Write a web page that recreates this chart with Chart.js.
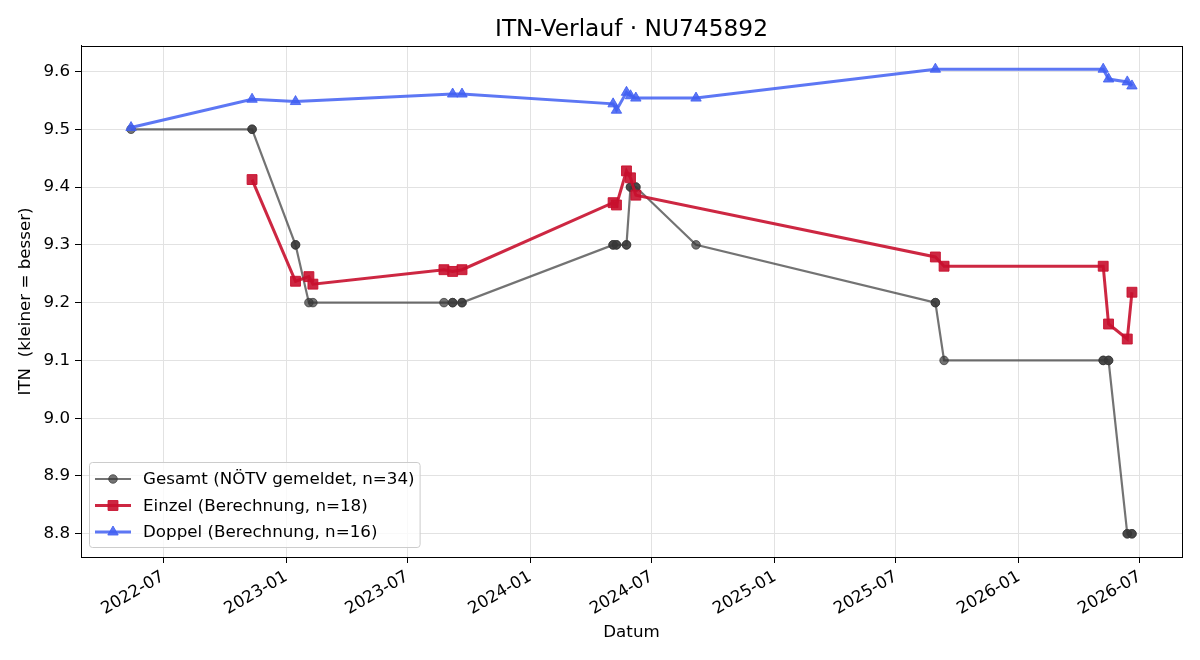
<!DOCTYPE html>
<html>
<head>
<meta charset="utf-8">
<script src="https://cdn.jsdelivr.net/npm/chart.js@4.4.1/dist/chart.umd.min.js"></script>
<style>
  html, body { margin: 0; padding: 0; background: #fff; }
  #wrap { width: 1200px; height: 660px; }
</style>
</head>
<body>
<div id="wrap"><canvas id="itnChart" width="1200" height="660"></canvas></div>
<script>
// --- DATA ---
const tickLabels = ['2022-07', '2023-01', '2023-07', '2024-01', '2024-07', '2025-01', '2025-07', '2026-01', '2026-07'];

const gesamtDates = [
    '2022-05-14', '2022-11-11', '2022-11-11', '2023-01-15', '2023-01-15', '2023-02-04', '2023-02-10',
    '2023-08-25', '2023-09-07', '2023-09-07', '2023-09-21', '2023-09-21', '2024-05-04', '2024-05-04',
    '2024-05-09', '2024-05-09', '2024-05-24', '2024-05-24', '2024-05-30', '2024-05-30', '2024-06-07',
    '2024-06-07', '2024-09-05', '2025-08-29', '2025-08-29', '2025-09-11', '2026-05-07', '2026-05-07',
    '2026-05-15', '2026-05-15', '2026-06-12', '2026-06-12', '2026-06-19', '2026-06-19'
];
const gesamtValues = [
    9.5, 9.5, 9.5, 9.3, 9.3, 9.2, 9.2,
    9.2, 9.2, 9.2, 9.2, 9.2, 9.3, 9.3,
    9.3, 9.3, 9.3, 9.3, 9.4, 9.4, 9.4,
    9.4, 9.3, 9.2, 9.2, 9.1, 9.1, 9.1,
    9.1, 9.1, 8.8, 8.8, 8.8, 8.8
];

const einzelDates = [
    '2022-11-11', '2023-01-15', '2023-02-04', '2023-02-10', '2023-08-25', '2023-09-07', '2023-09-21',
    '2024-05-04', '2024-05-09', '2024-05-24', '2024-05-30', '2024-06-07', '2025-08-29', '2025-09-11',
    '2026-05-07', '2026-05-15', '2026-06-12', '2026-06-19'
];
const einzelValues = [
    9.413, 9.237, 9.245, 9.232, 9.257, 9.254, 9.257,
    9.373, 9.369, 9.428, 9.416, 9.386, 9.279, 9.263,
    9.263, 9.163, 9.137, 9.218
];

const doppelDates = [
    '2022-05-14', '2022-11-11', '2023-01-15', '2023-09-07', '2023-09-21', '2024-05-04', '2024-05-09',
    '2024-05-24', '2024-05-30', '2024-06-07', '2024-09-05', '2025-08-29', '2026-05-07', '2026-05-15',
    '2026-06-12', '2026-06-19'
];
const doppelValues = [
    9.503, 9.552, 9.548, 9.561, 9.561, 9.544, 9.533,
    9.564, 9.558, 9.554, 9.554, 9.604, 9.604, 9.587,
    9.582, 9.575
];

// date string -> days since epoch
const toDay = (s) => {
    const [y, m, d] = s.split('-').map(Number);
    return Date.UTC(y, m - 1, d || 1) / 86400000;
};
const toPoints = (dates, values) => dates.map((d, i) => ({ x: toDay(d), y: values[i] }));

const tickDays = tickLabels.map(toDay);

// matplotlib-like 5% margins
const allDays = gesamtDates.map(toDay);
const allVals = gesamtValues.concat(einzelValues, doppelValues);
const dMin = Math.min(...allDays), dMax = Math.max(...allDays);
const vMin = Math.min(...allVals), vMax = Math.max(...allVals);
const xPad = (dMax - dMin) * 0.05, yPad = (vMax - vMin) * 0.05;

const FONT = "'DejaVu Sans', sans-serif";
const FS = 16.7;
Chart.defaults.font.family = FONT;
Chart.defaults.color = '#000';

// frame + legend inside the plot (lower left)
const frameAndLegend = {
    id: 'frameAndLegend',
    afterDraw(chart) {
        const { ctx, chartArea } = chart;
        ctx.save();
        ctx.strokeStyle = '#000';
        ctx.lineWidth = 1;
        ctx.strokeRect(Math.round(chartArea.left) + 0.5, Math.round(chartArea.top) + 0.5,
            Math.round(chartArea.right - chartArea.left), Math.round(chartArea.bottom - chartArea.top));

        ctx.font = FS + 'px ' + FONT;
        const sets = chart.data.datasets;
        const textW = Math.max(...sets.map(d => ctx.measureText(d.label).width));
        const x0 = chartArea.left + 8;
        const h = 85;
        const y0 = chartArea.bottom - 10 - h;
        const w = 54 + textW + 5;

        ctx.beginPath();
        if (ctx.roundRect) ctx.roundRect(x0 + 0.5, y0 + 0.5, w, h, 3);
        else ctx.rect(x0 + 0.5, y0 + 0.5, w, h);
        ctx.fillStyle = 'rgba(255,255,255,0.8)';
        ctx.fill();
        ctx.strokeStyle = '#cccccc';
        ctx.stroke();

        sets.forEach((ds, i) => {
            const cy = y0 + 17 + i * 26.5;
            ctx.strokeStyle = ds.borderColor;
            ctx.lineWidth = ds.borderWidth;
            ctx.beginPath();
            ctx.moveTo(x0 + 6, cy);
            ctx.lineTo(x0 + 42, cy);
            ctx.stroke();

            ctx.fillStyle = ds.pointBackgroundColor;
            ctx.strokeStyle = ds.pointBorderColor;
            ctx.lineWidth = ds.pointBorderWidth;
            Chart.helpers.drawPoint(ctx, {
                pointStyle: ds.pointStyle, radius: ds.pointRadius,
                borderWidth: ds.pointBorderWidth, rotation: 0
            }, x0 + 24, cy);

            ctx.fillStyle = '#000';
            ctx.textAlign = 'left';
            ctx.textBaseline = 'middle';
            ctx.fillText(ds.label, x0 + 54, cy + 1);
        });
        ctx.restore();
    }
};

const grey = 'rgba(55,55,55,0.7)';
const red = 'rgba(200,16,46,0.9)';
const blue = 'rgba(65,95,242,0.85)';

new Chart(document.getElementById('itnChart'), {
    type: 'line',
    data: {
        datasets: [{
            label: 'Gesamt (NÖTV gemeldet, n=34)',
            data: toPoints(gesamtDates, gesamtValues),
            borderColor: grey,
            borderWidth: 2.2,
            pointStyle: 'circle',
            pointRadius: 4.3,
            pointBorderWidth: 1,
            pointBackgroundColor: grey,
            pointBorderColor: grey,
            tension: 0,
            order: 3
        }, {
            label: 'Einzel (Berechnung, n=18)',
            data: toPoints(einzelDates, einzelValues),
            borderColor: red,
            borderWidth: 3,
            pointStyle: 'rect',
            pointRadius: 7,
            pointBorderWidth: 1,
            pointBackgroundColor: red,
            pointBorderColor: red,
            tension: 0,
            order: 2
        }, {
            label: 'Doppel (Berechnung, n=16)',
            data: toPoints(doppelDates, doppelValues),
            borderColor: blue,
            borderWidth: 3,
            pointStyle: 'triangle',
            pointRadius: 6,
            pointBorderWidth: 1,
            pointBackgroundColor: blue,
            pointBorderColor: blue,
            tension: 0,
            order: 1
        }]
    },
    options: {
        responsive: false,
        animation: false,
        layout: { padding: { left: 0, right: 18, top: 0, bottom: 0 } },
        plugins: {
            legend: { display: false },
            tooltip: { enabled: false },
            title: {
                display: true,
                text: 'ITN-Verlauf · NU745892',
                fullSize: false,
                font: { family: FONT, size: 23.3, weight: 'normal', lineHeight: 1.2 },
                color: '#000',
                padding: { top: 16, bottom: 2 }
            }
        },
        scales: {
            x: {
                type: 'linear',
                min: dMin - xPad,
                max: dMax + xPad,
                afterBuildTicks: (scale) => { scale.ticks = tickDays.map(v => ({ value: v })); },
                afterFit: (scale) => { scale.height = 103; scale.paddingLeft = 0; scale.paddingRight = 0; },
                ticks: {
                    autoSkip: false,
                    minRotation: 30,
                    maxRotation: 30,
                    padding: 4,
                    font: { family: FONT, size: FS },
                    color: '#000',
                    callback: (v) => tickLabels[tickDays.indexOf(v)]
                },
                grid: { color: '#e2e2e2', lineWidth: 1, tickColor: '#000', tickLength: 6 },
                border: { display: true, color: '#000', width: 1 },
                title: {
                    display: true, text: 'Datum',
                    font: { family: FONT, size: FS, lineHeight: 1.2 }, color: '#000',
                    padding: { top: 4, bottom: 17 }
                }
            },
            y: {
                type: 'linear',
                min: vMin - yPad,
                max: vMax + yPad,
                afterFit: (scale) => { scale.width = 81; scale.paddingTop = 0; scale.paddingBottom = 0; },
                ticks: {
                    stepSize: 0.1,
                    includeBounds: false,
                    padding: 5,
                    font: { family: FONT, size: FS },
                    color: '#000',
                    callback: (v) => v.toFixed(1)
                },
                grid: { color: '#e2e2e2', lineWidth: 1, tickColor: '#000', tickLength: 6 },
                border: { display: true, color: '#000', width: 1 },
                title: {
                    display: true, text: 'ITN  (kleiner = besser)',
                    font: { family: FONT, size: FS, lineHeight: 1.2 }, color: '#000',
                    padding: { top: 16, bottom: 4 }
                }
            }
        }
    },
    plugins: [frameAndLegend]
});
</script>
</body>
</html>
